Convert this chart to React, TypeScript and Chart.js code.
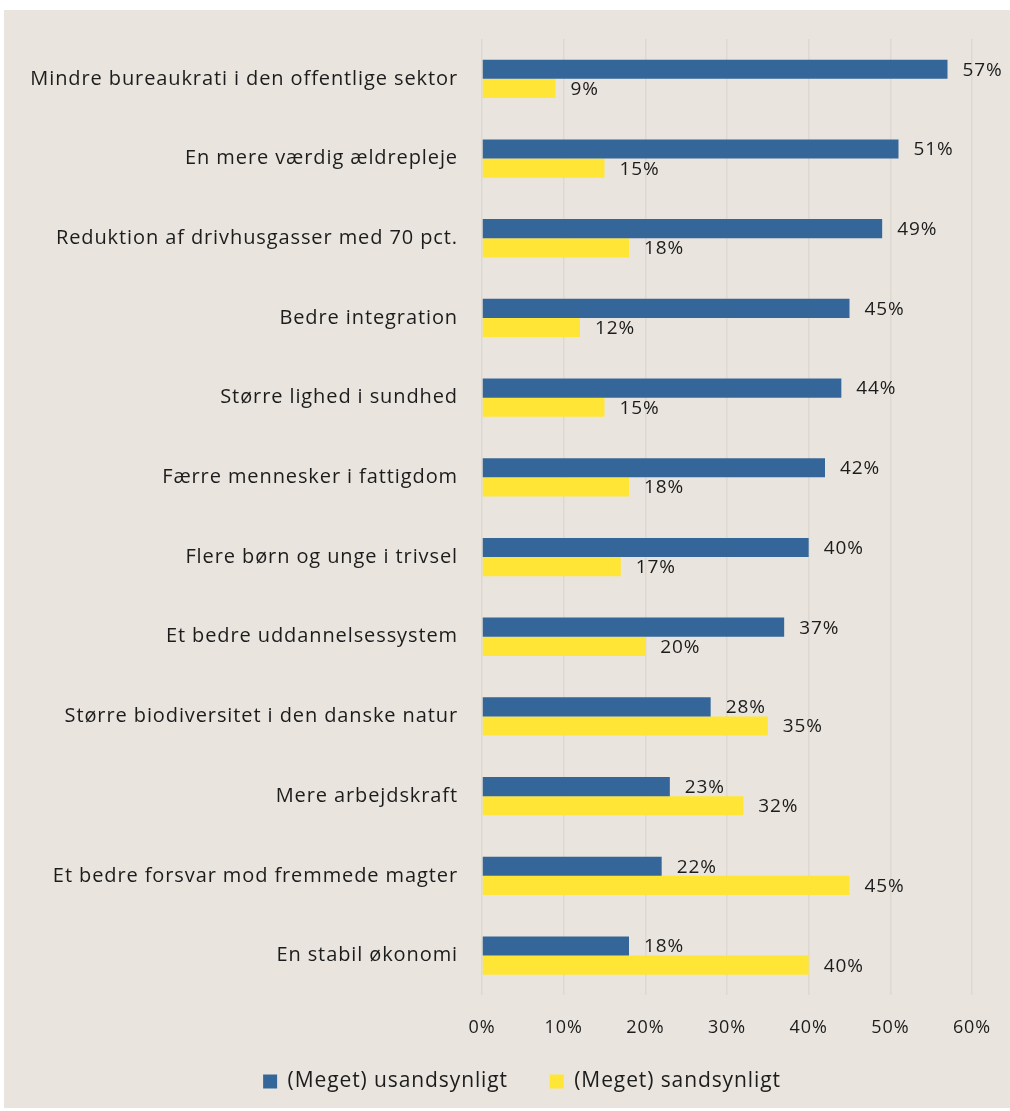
import React, { useEffect, useRef } from "react";
import { Chart, registerables } from "chart.js";

Chart.register(...registerables);

const categories = [
  "Mindre bureaukrati i den offentlige sektor",
  "En mere værdig ældrepleje",
  "Reduktion af drivhusgasser med 70 pct.",
  "Bedre integration",
  "Større lighed i sundhed",
  "Færre mennesker i fattigdom",
  "Flere børn og unge i trivsel",
  "Et bedre uddannelsessystem",
  "Større biodiversitet i den danske natur",
  "Mere arbejdskraft",
  "Et bedre forsvar mod fremmede magter",
  "En stabil økonomi",
];
const unlikely = [57, 51, 49, 45, 44, 42, 40, 37, 28, 23, 22, 18];
const likely = [9, 15, 18, 12, 15, 18, 17, 20, 35, 32, 45, 40];
const seriesNames = ["(Meget) usandsynligt", "(Meget) sandsynligt"];
const xTicks = [0, 10, 20, 30, 40, 50, 60];

const FONT = "'Open Sans', 'Noto Sans', sans-serif";
const TEXT = "#1c1c1c";
const SPACING = "0.9px";

const spacingPlugin = {
  id: "spacing",
  beforeUpdate(chart: any) {
    chart.ctx.letterSpacing = SPACING;
  },
  beforeLayout(chart: any) {
    chart.ctx.letterSpacing = SPACING;
  },
  afterLayout(chart: any) {
    // shift the legend so it is centred like the reference
    const shift = 34;
    if (chart.legend) {
      chart.legend.left += shift;
      chart.legend.right += shift;
    }
  },
  beforeDraw(chart: any) {
    chart.ctx.letterSpacing = SPACING;
  },
};

const valueLabels = {
  id: "valueLabels",
  afterDatasetsDraw(chart: any) {
    const ctx = chart.ctx;
    ctx.save();
    ctx.letterSpacing = SPACING;
    ctx.font = `19px ${FONT}`;
    ctx.fillStyle = TEXT;
    ctx.textAlign = "left";
    ctx.textBaseline = "middle";
    chart.data.datasets.forEach((ds: any, i: number) => {
      const meta = chart.getDatasetMeta(i);
      meta.data.forEach((bar: any, j: number) => {
        ctx.fillText(ds.data[j] + "%", bar.x + 15, bar.y + 1);
      });
    });
    ctx.restore();
  },
};

export default function App() {
  const ref = useRef<HTMLCanvasElement | null>(null);
  useEffect(() => {
    document.body.style.margin = "0";
    const chart = new Chart(ref.current!, {
      type: "bar",
      data: {
        labels: categories,
        datasets: [
          {
            label: seriesNames[0],
            data: unlikely,
            backgroundColor: "#346699",
            borderWidth: 0,
            categoryPercentage: 0.48,
            barPercentage: 1,
          },
          {
            label: seriesNames[1],
            data: likely,
            backgroundColor: "#FFE535",
            borderWidth: 0,
            categoryPercentage: 0.48,
            barPercentage: 1,
          },
        ],
      },
      options: {
        indexAxis: "y",
        animation: false,
        responsive: false,
        maintainAspectRatio: false,
        layout: { padding: { top: 29, right: 38, left: 0, bottom: 6 } },
        scales: {
          x: {
            min: 0,
            max: 60,
            afterBuildTicks(scale: any) {
              scale.ticks = xTicks.map((v) => ({ value: v }));
            },
            afterFit(scale: any) {
              scale.paddingLeft = 0;
              scale.paddingRight = 0;
            },
            ticks: {
              callback: (v: any) => v + "%",
              font: { family: FONT, size: 18 },
              color: TEXT,
              padding: 22,
            },
            grid: { color: "#DDD9D1", lineWidth: 1.5, drawTicks: false },
            border: { display: false },
          },
          y: {
            afterFit(scale: any) {
              scale.width = 478;
              scale.paddingTop = 0;
              scale.paddingBottom = 0;
            },
            ticks: {
              font: { family: FONT, size: 20 },
              color: TEXT,
              padding: 24,
            },
            grid: { display: false, drawTicks: false },
            border: { display: false },
          },
        },
        plugins: {
          legend: {
            position: "bottom",
            labels: {
              font: { family: FONT, size: 21 },
              color: TEXT,
              boxWidth: 14,
              boxHeight: 14,
              padding: 10,
              generateLabels(chart: any) {
                const items = Chart.defaults.plugins.legend.labels.generateLabels(chart);
                items[0].text = items[0].text + "     ";
                return items;
              },
            },
          },
          tooltip: { enabled: false },
        },
      },
      plugins: [spacingPlugin, valueLabels],
    });
    return () => chart.destroy();
  }, []);
  return (
    <div
      style={{
        position: "absolute",
        left: 4,
        top: 10,
        width: 1006,
        height: 1098,
        background: "#E9E5DE",
      }}
    >
      <canvas ref={ref} width={1006} height={1098} style={{ display: "block" }} />
    </div>
  );
}
